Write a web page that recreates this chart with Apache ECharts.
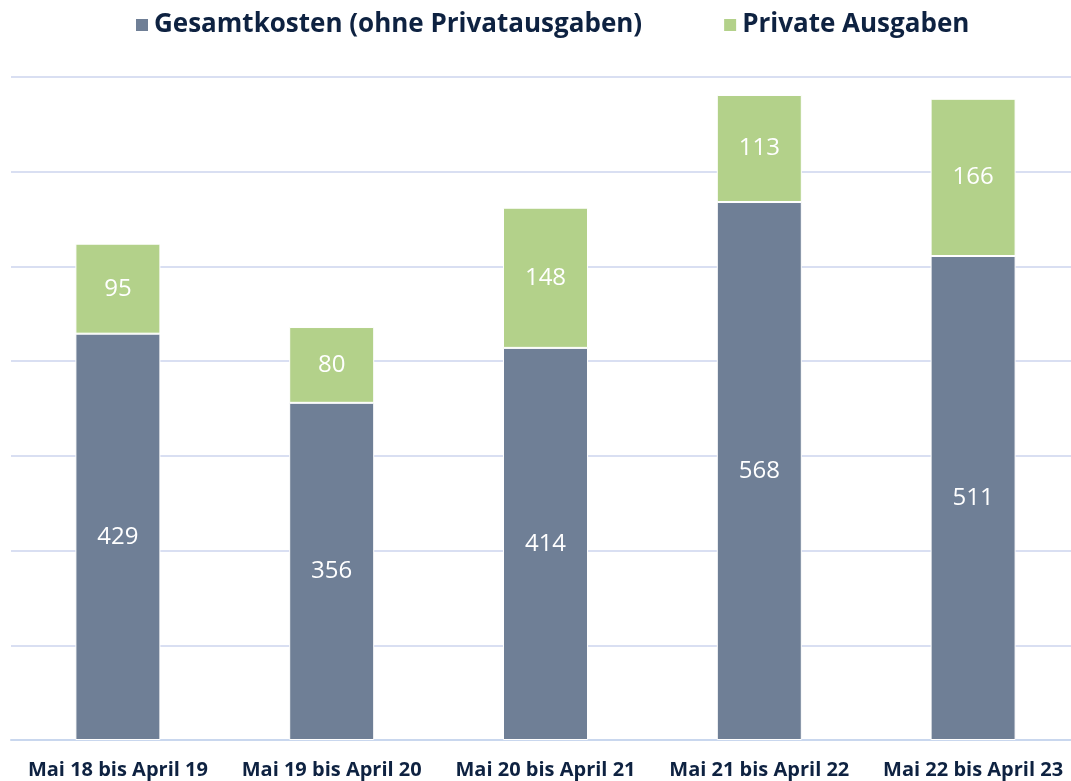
<!DOCTYPE html>
<html>
<head>
<meta charset="utf-8">
<script src="https://cdn.jsdelivr.net/npm/echarts@6/dist/echarts.min.js"></script>
<style>
  html, body { margin: 0; padding: 0; background: #fff; overflow: hidden; }
  #chart { width: 1081px; height: 781px; }
</style>
</head>
<body>
<div id="chart"></div>
<script>
const categories = ['Mai 18 bis April 19', 'Mai 19 bis April 20', 'Mai 20 bis April 21', 'Mai 21 bis April 22', 'Mai 22 bis April 23']
const gesamtkosten = [429, 356, 414, 568, 511]
const privateAusgaben = [95, 80, 148, 113, 166]

// the div is a bit wider than the window so the category bands line up with the original
const chart = echarts.init(document.getElementById('chart'))
const labelStyle = {
  show: true,
  position: 'inside',
  color: '#fff',
  fontSize: 24,
  fontFamily: 'Open Sans',
}
chart.setOption({
  animation: false,
  legend: {
    top: 7,
    left: 129,
    itemWidth: 14,
    itemHeight: 14,
    itemGap: 80,
    icon: 'rect',
    textStyle: {
      fontSize: 26,
      fontWeight: 'bold',
      fontFamily: 'Open Sans',
      color: '#0e2241',
    },
    data: ['Gesamtkosten (ohne Privatausgaben)', 'Private Ausgaben'],
  },
  grid: {
    left: 11,
    right: 1,
    top: 77,
    bottom: 41,
  },
  xAxis: {
    type: 'category',
    data: categories,
    axisTick: { show: false },
    axisLine: { lineStyle: { color: '#c9d7ee', width: 2 } },
    axisLabel: {
      interval: 0,
      margin: 20,
      fontSize: 20,
      fontWeight: 'bold',
      fontFamily: 'Open Sans',
      color: '#0e2241',
    },
  },
  yAxis: {
    type: 'value',
    min: 0,
    max: 700,
    interval: 100,
    axisLabel: { show: false },
    axisLine: { show: false },
    axisTick: { show: false },
    splitLine: { lineStyle: { color: '#d9dff2', width: 2 } },
  },
  series: [
    {
      name: 'Gesamtkosten (ohne Privatausgaben)',
      type: 'bar',
      stack: 'total',
      barWidth: 85,
      data: gesamtkosten,
      itemStyle: { color: '#6f7f96', borderColor: '#fff', borderWidth: 1 },
      label: labelStyle,
    },
    {
      name: 'Private Ausgaben',
      type: 'bar',
      stack: 'total',
      barWidth: 85,
      data: privateAusgaben,
      itemStyle: { color: '#b3d18a', borderColor: '#fff', borderWidth: 1 },
      label: labelStyle,
    },
  ],
})
</script>
</body>
</html>
